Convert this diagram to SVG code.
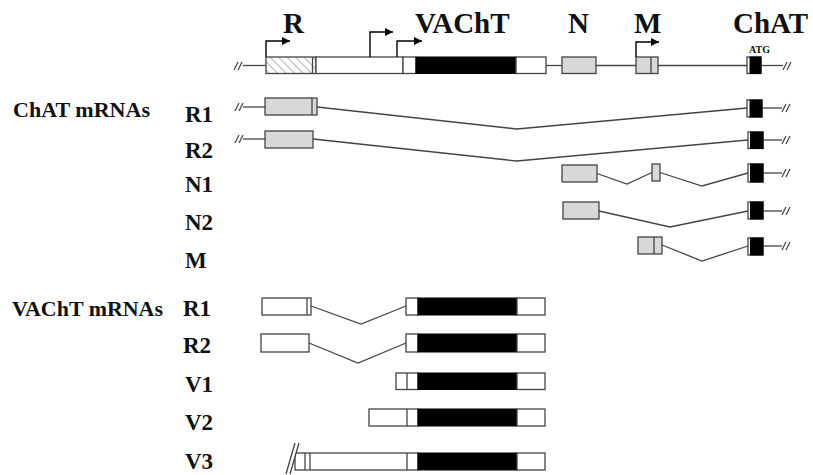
<svg xmlns="http://www.w3.org/2000/svg" width="813" height="475" viewBox="0 0 813 475">
<defs>
<pattern id="hatch" patternUnits="userSpaceOnUse" width="6" height="6" patternTransform="rotate(-45)">
<line x1="0" y1="0" x2="0" y2="6" stroke="#8a8a8a" stroke-width="1.3"/>
</pattern>
<marker id="ah" viewBox="0 0 10 10" refX="10" refY="5" markerWidth="9" markerHeight="8" markerUnits="userSpaceOnUse" orient="auto">
<path d="M0,0 L10,5 L0,10 Z" fill="#000"/>
</marker>
</defs>
<style>
.t{font-family:"Liberation Serif","Times New Roman",serif;font-weight:bold;fill:#111}
.big{font-size:29px}
.lab{font-size:23px}
.hdr{font-size:21px}
.ln{fill:none;stroke:#444;stroke-width:1.3}
.g{fill:#d8d8d8;stroke:#444;stroke-width:1.3}
.w{fill:#fff;stroke:#444;stroke-width:1.3}
.b{fill:#000;stroke:#000;stroke-width:1}
.arr{fill:none;stroke:#000;stroke-width:1.4;marker-end:url(#ah)}
.brk{stroke:#444;stroke-width:1.3}
</style>
<rect width="813" height="475" fill="#fff"/>

<!-- headings -->
<g id="labels">
<text class="t big" x="283" y="33">R</text>
<text class="t big" x="415" y="33">VAChT</text>
<text class="t big" x="568" y="33">N</text>
<text class="t big" x="634" y="33">M</text>
<text class="t big" x="733" y="33">ChAT</text>
<text class="t" x="749" y="53" font-size="10">ATG</text>
<text class="t hdr" x="13" y="117" textLength="137" lengthAdjust="spacingAndGlyphs">ChAT mRNAs</text>
<text class="t hdr" x="12" y="316" textLength="151" lengthAdjust="spacingAndGlyphs">VAChT mRNAs</text>
<text class="t lab" x="185" y="122">R1</text>
<text class="t lab" x="185" y="158">R2</text>
<text class="t lab" x="185" y="192">N1</text>
<text class="t lab" x="185" y="230">N2</text>
<text class="t lab" x="185" y="268">M</text>
<text class="t lab" x="183" y="316">R1</text>
<text class="t lab" x="183" y="353">R2</text>
<text class="t lab" x="185" y="392">V1</text>
<text class="t lab" x="185" y="430">V2</text>
<text class="t lab" x="185" y="469">V3</text>
</g>

<!-- gene map -->
<g id="gene">
<line class="ln" x1="243" y1="65.5" x2="266" y2="65.5"/>
<line class="brk" x1="234" y1="70" x2="238" y2="62"/>
<line class="brk" x1="238" y1="70" x2="242" y2="62"/>
<rect x="266" y="57" width="50" height="16.5" fill="url(#hatch)" stroke="#444" stroke-width="1.3"/>
<line class="ln" x1="312.5" y1="57" x2="312.5" y2="73.5"/>
<rect class="w" x="316" y="57" width="87" height="16.5"/>
<rect class="w" x="403" y="57" width="13" height="16.5"/>
<rect class="b" x="416" y="57" width="100" height="16.5"/>
<rect class="w" x="516" y="57" width="30" height="16.5"/>
<line class="ln" x1="546" y1="65.5" x2="562" y2="65.5"/>
<rect class="g" x="562" y="57" width="34" height="16.5"/>
<line class="ln" x1="596" y1="65.5" x2="636" y2="65.5"/>
<rect class="g" x="636" y="57" width="22" height="16.5"/>
<line class="ln" x1="651" y1="57" x2="651" y2="73.5"/>
<line class="ln" x1="658" y1="65.5" x2="747" y2="65.5"/>
<rect class="w" x="747" y="57" width="14" height="16.5"/>
<rect class="b" x="750" y="57" width="11" height="16.5"/>
<line class="ln" x1="761" y1="65.5" x2="783" y2="65.5"/>
<line class="brk" x1="783" y1="70" x2="787" y2="62"/>
<line class="brk" x1="787" y1="70" x2="791" y2="62"/>
<path class="arr" d="M266,57 V41 H290"/>
<path class="arr" d="M370,57 V32 H393"/>
<path class="arr" d="M397,57 V41 H422"/>
<path class="arr" d="M636,57 V42 H659"/>
</g>

<!-- ChAT mRNAs -->
<g id="chat-r1">
<line class="brk" x1="235" y1="111" x2="239" y2="103"/>
<line class="brk" x1="239" y1="111" x2="243" y2="103"/>
<line class="ln" x1="243" y1="107" x2="265" y2="107"/>
<rect class="g" x="265" y="98" width="52" height="17"/>
<line class="ln" x1="312" y1="98" x2="312" y2="115"/>
<rect class="w" x="747" y="100" width="15" height="17"/>
<rect class="b" x="750" y="100" width="12" height="17"/>
<line class="ln" x1="762" y1="108" x2="782" y2="108"/>
<line class="brk" x1="782" y1="112" x2="786" y2="104"/>
<line class="brk" x1="786" y1="112" x2="790" y2="104"/>
</g>
<g id="chat-r2">
<line class="brk" x1="235" y1="143" x2="239" y2="135"/>
<line class="brk" x1="239" y1="143" x2="243" y2="135"/>
<line class="ln" x1="243" y1="139" x2="265" y2="139"/>
<rect class="g" x="265" y="131" width="48" height="17"/>
<rect class="w" x="748" y="132" width="15" height="16.5"/>
<rect class="b" x="750.5" y="132" width="12.5" height="16.5"/>
<line class="ln" x1="763" y1="140" x2="782" y2="140"/>
<line class="brk" x1="782" y1="144" x2="786" y2="136"/>
<line class="brk" x1="786" y1="144" x2="790" y2="136"/>
</g>
<g id="chat-n1">
<rect class="g" x="562" y="165" width="35" height="17"/>
<rect class="g" x="652" y="164" width="8" height="17"/>
<rect class="w" x="748" y="164" width="15" height="18"/>
<rect class="b" x="750.5" y="164" width="12.5" height="18"/>
<line class="ln" x1="763" y1="173" x2="782" y2="173"/>
<line class="brk" x1="782" y1="177" x2="786" y2="169"/>
<line class="brk" x1="786" y1="177" x2="790" y2="169"/>
</g>
<g id="chat-n2">
<rect class="g" x="563" y="202" width="36" height="17"/>
<rect class="w" x="748" y="202" width="15" height="17"/>
<rect class="b" x="750.5" y="202" width="12.5" height="17"/>
<line class="ln" x1="763" y1="211" x2="782" y2="211"/>
<line class="brk" x1="782" y1="215" x2="786" y2="207"/>
<line class="brk" x1="786" y1="215" x2="790" y2="207"/>
</g>
<g id="chat-m">
<rect class="g" x="638" y="237" width="24" height="17"/>
<line class="ln" x1="654" y1="237" x2="654" y2="254"/>
<rect class="w" x="748" y="238" width="15" height="17"/>
<rect class="b" x="750.5" y="238" width="12.5" height="17"/>
<line class="ln" x1="763" y1="246" x2="782" y2="246"/>
<line class="brk" x1="782" y1="250" x2="786" y2="242"/>
<line class="brk" x1="786" y1="250" x2="790" y2="242"/>
</g>

<!-- VAChT mRNAs -->
<g id="vacht-r1">
<rect class="w" x="262" y="298" width="49" height="17"/>
<line class="ln" x1="307" y1="298" x2="307" y2="315"/>
<rect class="w" x="406" y="298" width="12" height="17"/>
<rect class="b" x="418" y="298" width="99" height="17"/>
<rect class="w" x="517" y="298" width="28" height="17"/>
</g>
<g id="vacht-r2">
<rect class="w" x="261" y="334" width="48" height="18"/>
<rect class="w" x="406" y="334" width="12" height="18"/>
<rect class="b" x="418" y="334" width="99" height="18"/>
<rect class="w" x="517" y="334" width="28" height="18"/>
</g>
<g id="vacht-v1">
<rect class="w" x="396" y="373" width="22" height="16.5"/>
<line class="ln" x1="407" y1="373" x2="407" y2="389.5"/>
<rect class="b" x="418" y="373" width="99" height="16.5"/>
<rect class="w" x="517" y="373" width="28" height="16.5"/>
</g>
<g id="vacht-v2">
<rect class="w" x="369" y="409" width="49" height="17"/>
<line class="ln" x1="407" y1="409" x2="407" y2="426"/>
<rect class="b" x="418" y="409" width="99" height="17"/>
<rect class="w" x="517" y="409" width="28" height="17"/>
</g>
<g id="vacht-v3">
<rect class="w" x="295" y="453" width="123" height="17"/>
<line class="ln" x1="305" y1="453" x2="305" y2="470"/>
<line class="ln" x1="310" y1="453" x2="310" y2="470"/>
<line class="ln" x1="407" y1="453" x2="407" y2="470"/>
<rect class="b" x="418" y="453" width="99" height="17"/>
<rect class="w" x="517" y="453" width="28" height="17"/>
<line x1="287" y1="474" x2="297" y2="443" stroke="#fff" stroke-width="5"/>
<line class="brk" x1="286" y1="474" x2="295" y2="443"/>
<line class="brk" x1="290" y1="474" x2="299" y2="443"/>
</g>

<!-- splice connectors -->
<g id="connectors">
<polyline class="ln" points="317,107 517,129 747,108"/>
<polyline class="ln" points="313,139 517,161 748,140"/>
<polyline class="ln" points="597,173.5 627,184 652,172.5"/>
<polyline class="ln" points="660,172.5 702,186 748,173"/>
<polyline class="ln" points="599,211 670,227 748,211"/>
<polyline class="ln" points="662,245 702,261 748,246"/>
<polyline class="ln" points="311,306 361,324 406,306"/>
<polyline class="ln" points="309,343 358,363 406,343"/>
</g>
</svg>
